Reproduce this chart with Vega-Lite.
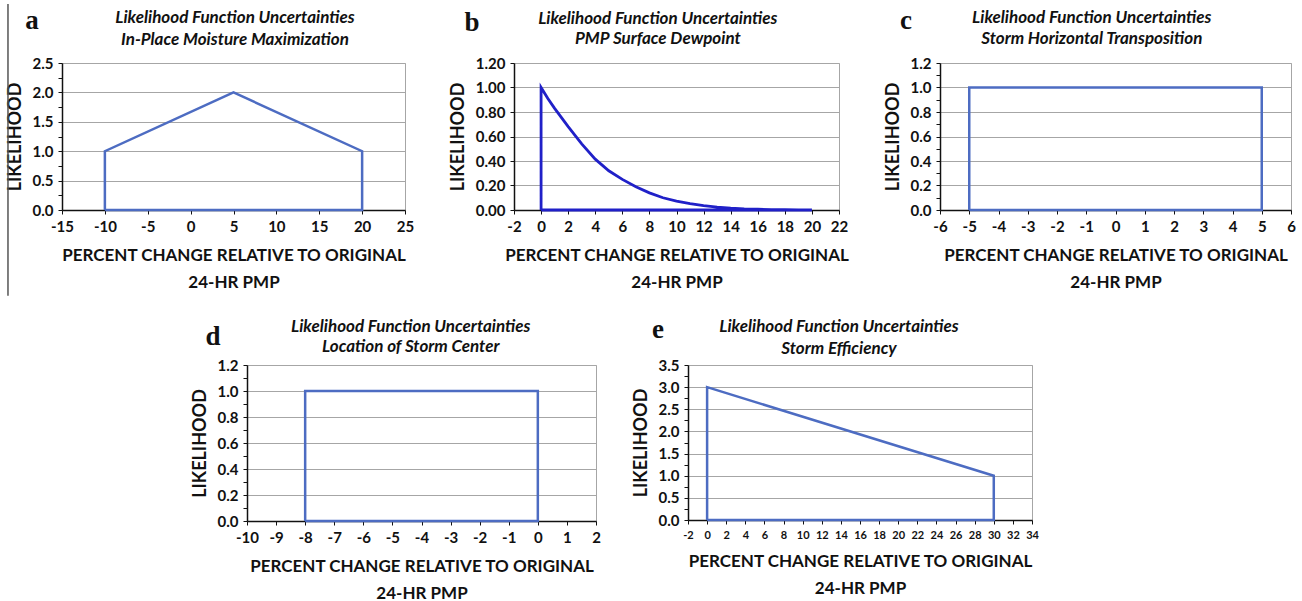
{
  "$schema": "https://vega.github.io/schema/vega-lite/v6.json",
  "background": "white",
  "padding": {"left": 5, "top": 2, "right": 0, "bottom": 0},
  "config": {
    "font": "Lato",
    "view": {"stroke": "#a6a6a6", "strokeWidth": 1},
    "axis": {"labelFont": "Lato", "labelFontWeight": "bold", "labelFontSize": 15, "labelColor": "#111", "titleFont": "Lato", "titleFontWeight": "bold", "titleFontSize": 17, "titleColor": "#111", "domainColor": "#111", "domainWidth": 1.5, "tickColor": "#111", "tickSize": 4, "tickWidth": 1, "gridColor": "#a6a6a6", "gridWidth": 1, "labelExpr": "replace(datum.label, '\u2212', '-')"},
    "axisX": {"grid": false, "labelPadding": 5, "titlePadding": 13, "titleLineHeight": 27, "labelFlush": false, "labelOverlap": false},
    "axisY": {"grid": true, "titlePadding": 8, "labelPadding": 5, "titleFontSize": 18, "labelOverlap": false},
    "text": {"font": "Liberation Serif", "fontWeight": "bold", "fontSize": 27, "color": "#111", "align": "center", "baseline": "alphabetic"},
    "line": {"strokeWidth": 2.5, "color": "#4d6cc2"}
  },
  "datasets": {
    "a": [{"i": 0, "x": -10, "y": 0}, {"i": 1, "x": -10, "y": 1}, {"i": 2, "x": 5, "y": 2}, {"i": 3, "x": 20, "y": 1}, {"i": 4, "x": 20, "y": 0}, {"i": 5, "x": -10, "y": 0}],
    "b": [{"i": 0, "x": 0, "y": 0}, {"i": 1, "x": 0, "y": 1}, {"i": 2, "x": 0.5, "y": 0.91}, {"i": 3, "x": 1, "y": 0.83}, {"i": 4, "x": 2, "y": 0.68}, {"i": 5, "x": 3, "y": 0.54}, {"i": 6, "x": 4, "y": 0.415}, {"i": 7, "x": 5, "y": 0.32}, {"i": 8, "x": 6, "y": 0.25}, {"i": 9, "x": 7, "y": 0.19}, {"i": 10, "x": 8, "y": 0.14}, {"i": 11, "x": 9, "y": 0.1}, {"i": 12, "x": 10, "y": 0.073}, {"i": 13, "x": 11, "y": 0.052}, {"i": 14, "x": 12, "y": 0.036}, {"i": 15, "x": 13, "y": 0.024}, {"i": 16, "x": 14, "y": 0.015}, {"i": 17, "x": 15, "y": 0.009}, {"i": 18, "x": 16, "y": 0.006}, {"i": 19, "x": 17, "y": 0.0035}, {"i": 20, "x": 18, "y": 0.002}, {"i": 21, "x": 19, "y": 0.001}, {"i": 22, "x": 20, "y": 0}, {"i": 23, "x": 0, "y": 0}],
    "c": [{"i": 0, "x": -5, "y": 0}, {"i": 1, "x": -5, "y": 1}, {"i": 2, "x": 5, "y": 1}, {"i": 3, "x": 5, "y": 0}, {"i": 4, "x": -5, "y": 0}],
    "d": [{"i": 0, "x": -8, "y": 0}, {"i": 1, "x": -8, "y": 1}, {"i": 2, "x": 0, "y": 1}, {"i": 3, "x": 0, "y": 0}, {"i": 4, "x": -8, "y": 0}],
    "e": [{"i": 0, "x": 0, "y": 0}, {"i": 1, "x": 0, "y": 3}, {"i": 2, "x": 30, "y": 1}, {"i": 3, "x": 30, "y": 0}, {"i": 4, "x": 0, "y": 0}]
  },
  "spacing": 17,
  "vconcat": [
    {
      "spacing": 33,
      "hconcat": [
        {
          "width": 343, "height": 147,
          "layer": [
            {
              "data": {"name": "a"},
              "mark": {"type": "line"},
              "encoding": {
                "x": {"field": "x", "type": "quantitative", "scale": {"domain": [-15, 25], "nice": false, "zero": false}, "axis": {"values": [-15, -10, -5, 0, 5, 10, 15, 20, 25], "format": "d", "title": ["PERCENT CHANGE RELATIVE TO ORIGINAL", "24-HR PMP"]}},
                "y": {"field": "y", "type": "quantitative", "scale": {"domain": [0, 2.5], "nice": false}, "axis": {"values": [0, 0.25, 0.5, 0.75, 1, 1.25, 1.5, 1.75, 2, 2.25, 2.5], "labelExpr": "datum.value % 0.5 == 0 ? format(datum.value, '.1f') : ''", "gridOpacity": {"condition": {"test": "datum.value % 0.5 == 0", "value": 1}, "value": 0}, "title": "LIKELIHOOD"}},
                "order": {"field": "i"}
              }
            },
            {
              "data": {"values": [{"panel": "a"}]},
              "mark": {"type": "rule", "color": "#555555", "strokeWidth": 1.5, "clip": false},
              "encoding": {
                "x": {"datum": -21.3, "type": "quantitative", "scale": {"domain": [-15, 25], "nice": false, "zero": false}, "axis": {"values": [-15, -10, -5, 0, 5, 10, 15, 20, 25], "format": "d", "title": ["PERCENT CHANGE RELATIVE TO ORIGINAL", "24-HR PMP"]}},
                "y": {"datum": 3.503, "type": "quantitative", "scale": {"domain": [0, 2.5], "nice": false}, "axis": {"values": [0, 0.25, 0.5, 0.75, 1, 1.25, 1.5, 1.75, 2, 2.25, 2.5], "labelExpr": "datum.value % 0.5 == 0 ? format(datum.value, '.1f') : ''", "gridOpacity": {"condition": {"test": "datum.value % 0.5 == 0", "value": 1}, "value": 0}, "title": "LIKELIHOOD"}},
                "y2": {"datum": -1.46}
              }
            },
            {
              "data": {"values": [{"panel": "a"}]},
              "mark": {"type": "text"},
              "encoding": {
                "text": {"field": "panel"},
                "x": {"datum": -18.5, "type": "quantitative", "scale": {"domain": [-15, 25], "nice": false, "zero": false}, "axis": {"values": [-15, -10, -5, 0, 5, 10, 15, 20, 25], "format": "d", "title": ["PERCENT CHANGE RELATIVE TO ORIGINAL", "24-HR PMP"]}},
                "y": {"datum": 3.08, "type": "quantitative", "scale": {"domain": [0, 2.5], "nice": false}, "axis": {"values": [0, 0.25, 0.5, 0.75, 1, 1.25, 1.5, 1.75, 2, 2.25, 2.5], "labelExpr": "datum.value % 0.5 == 0 ? format(datum.value, '.1f') : ''", "gridOpacity": {"condition": {"test": "datum.value % 0.5 == 0", "value": 1}, "value": 0}, "title": "LIKELIHOOD"}}
              }
            },
            {
              "data": {"values": [{"panel": "a"}]},
              "mark": {"type": "text", "text": ["Likelihood Function Uncertainties", "In-Place Moisture  Maximization"], "font": "Lato", "fontStyle": "italic", "fontWeight": "bold", "fontSize": 17, "lineHeight": 22},
              "encoding": {
                "x": {"datum": 5.17, "type": "quantitative", "scale": {"domain": [-15, 25], "nice": false, "zero": false}, "axis": {"values": [-15, -10, -5, 0, 5, 10, 15, 20, 25], "format": "d", "title": ["PERCENT CHANGE RELATIVE TO ORIGINAL", "24-HR PMP"]}},
                "y": {"datum": 3.18, "type": "quantitative", "scale": {"domain": [0, 2.5], "nice": false}, "axis": {"values": [0, 0.25, 0.5, 0.75, 1, 1.25, 1.5, 1.75, 2, 2.25, 2.5], "labelExpr": "datum.value % 0.5 == 0 ? format(datum.value, '.1f') : ''", "gridOpacity": {"condition": {"test": "datum.value % 0.5 == 0", "value": 1}, "value": 0}, "title": "LIKELIHOOD"}}
              }
            }
          ]
        },
        {
          "width": 325, "height": 147,
          "layer": [
            {
              "data": {"name": "b"},
              "mark": {"type": "line", "color": "#2020c8", "strokeWidth": 2.8},
              "encoding": {
                "x": {"field": "x", "type": "quantitative", "scale": {"domain": [-2, 22], "nice": false, "zero": false}, "axis": {"values": [-2, 0, 2, 4, 6, 8, 10, 12, 14, 16, 18, 20, 22], "format": "d", "title": ["PERCENT CHANGE RELATIVE TO ORIGINAL", "24-HR PMP"]}},
                "y": {"field": "y", "type": "quantitative", "scale": {"domain": [0, 1.2], "nice": false}, "axis": {"values": [0, 0.2, 0.4, 0.6, 0.8, 1, 1.2], "format": ".2f", "title": "LIKELIHOOD"}},
                "order": {"field": "i"}
              }
            },
            {
              "data": {"values": [{"panel": "b"}]},
              "mark": {"type": "text"},
              "encoding": {
                "text": {"field": "panel"},
                "x": {"datum": -5.1, "type": "quantitative", "scale": {"domain": [-2, 22], "nice": false, "zero": false}, "axis": {"values": [-2, 0, 2, 4, 6, 8, 10, 12, 14, 16, 18, 20, 22], "format": "d", "title": ["PERCENT CHANGE RELATIVE TO ORIGINAL", "24-HR PMP"]}},
                "y": {"datum": 1.46, "type": "quantitative", "scale": {"domain": [0, 1.2], "nice": false}, "axis": {"values": [0, 0.2, 0.4, 0.6, 0.8, 1, 1.2], "format": ".2f", "title": "LIKELIHOOD"}}
              }
            },
            {
              "data": {"values": [{"panel": "b"}]},
              "mark": {"type": "text", "text": ["Likelihood Function Uncertainties", "PMP Surface Dewpoint"], "font": "Lato", "fontStyle": "italic", "fontWeight": "bold", "fontSize": 17, "lineHeight": 20},
              "encoding": {
                "x": {"datum": 8.62, "type": "quantitative", "scale": {"domain": [-2, 22], "nice": false, "zero": false}, "axis": {"values": [-2, 0, 2, 4, 6, 8, 10, 12, 14, 16, 18, 20, 22], "format": "d", "title": ["PERCENT CHANGE RELATIVE TO ORIGINAL", "24-HR PMP"]}},
                "y": {"datum": 1.518, "type": "quantitative", "scale": {"domain": [0, 1.2], "nice": false}, "axis": {"values": [0, 0.2, 0.4, 0.6, 0.8, 1, 1.2], "format": ".2f", "title": "LIKELIHOOD"}}
              }
            }
          ]
        },
        {
          "width": 351, "height": 147,
          "layer": [
            {
              "data": {"name": "c"},
              "mark": {"type": "line"},
              "encoding": {
                "x": {"field": "x", "type": "quantitative", "scale": {"domain": [-6, 6], "nice": false, "zero": false}, "axis": {"values": [-6, -5, -4, -3, -2, -1, 0, 1, 2, 3, 4, 5, 6], "format": "d", "title": ["PERCENT CHANGE RELATIVE TO ORIGINAL", "24-HR PMP"]}},
                "y": {"field": "y", "type": "quantitative", "scale": {"domain": [0, 1.2], "nice": false}, "axis": {"values": [0, 0.1, 0.2, 0.3, 0.4, 0.5, 0.6, 0.7, 0.8, 0.9, 1, 1.1, 1.2], "labelExpr": "round(datum.value * 10) % 2 == 0 ? format(datum.value, '.1f') : ''", "gridOpacity": {"condition": {"test": "round(datum.value * 10) % 2 == 0", "value": 1}, "value": 0}, "title": "LIKELIHOOD"}},
                "order": {"field": "i"}
              }
            },
            {
              "data": {"values": [{"panel": "c"}]},
              "mark": {"type": "text"},
              "encoding": {
                "text": {"field": "panel"},
                "x": {"datum": -7.16, "type": "quantitative", "scale": {"domain": [-6, 6], "nice": false, "zero": false}, "axis": {"values": [-6, -5, -4, -3, -2, -1, 0, 1, 2, 3, 4, 5, 6], "format": "d", "title": ["PERCENT CHANGE RELATIVE TO ORIGINAL", "24-HR PMP"]}},
                "y": {"datum": 1.478, "type": "quantitative", "scale": {"domain": [0, 1.2], "nice": false}, "axis": {"values": [0, 0.1, 0.2, 0.3, 0.4, 0.5, 0.6, 0.7, 0.8, 0.9, 1, 1.1, 1.2], "labelExpr": "round(datum.value * 10) % 2 == 0 ? format(datum.value, '.1f') : ''", "gridOpacity": {"condition": {"test": "round(datum.value * 10) % 2 == 0", "value": 1}, "value": 0}, "title": "LIKELIHOOD"}}
              }
            },
            {
              "data": {"values": [{"panel": "c"}]},
              "mark": {"type": "text", "text": ["Likelihood Function Uncertainties", "Storm Horizontal Transposition"], "font": "Lato", "fontStyle": "italic", "fontWeight": "bold", "fontSize": 17, "lineHeight": 21},
              "encoding": {
                "x": {"datum": -0.81, "type": "quantitative", "scale": {"domain": [-6, 6], "nice": false, "zero": false}, "axis": {"values": [-6, -5, -4, -3, -2, -1, 0, 1, 2, 3, 4, 5, 6], "format": "d", "title": ["PERCENT CHANGE RELATIVE TO ORIGINAL", "24-HR PMP"]}},
                "y": {"datum": 1.527, "type": "quantitative", "scale": {"domain": [0, 1.2], "nice": false}, "axis": {"values": [0, 0.1, 0.2, 0.3, 0.4, 0.5, 0.6, 0.7, 0.8, 0.9, 1, 1.1, 1.2], "labelExpr": "round(datum.value * 10) % 2 == 0 ? format(datum.value, '.1f') : ''", "gridOpacity": {"condition": {"test": "round(datum.value * 10) % 2 == 0", "value": 1}, "value": 0}, "title": "LIKELIHOOD"}}
              }
            }
          ]
        }
      ]
    },
    {
      "spacing": 30,
      "hconcat": [
        {
          "width": 98, "height": 10,
          "view": {"stroke": null},
          "data": {"values": []},
          "mark": "point"
        },
        {
          "width": 349, "height": 156,
          "layer": [
            {
              "data": {"name": "d"},
              "mark": {"type": "line"},
              "encoding": {
                "x": {"field": "x", "type": "quantitative", "scale": {"domain": [-10, 2], "nice": false, "zero": false}, "axis": {"values": [-10, -9, -8, -7, -6, -5, -4, -3, -2, -1, 0, 1, 2], "format": "d", "title": ["PERCENT CHANGE RELATIVE TO ORIGINAL", "24-HR PMP"]}},
                "y": {"field": "y", "type": "quantitative", "scale": {"domain": [0, 1.2], "nice": false}, "axis": {"values": [0, 0.1, 0.2, 0.3, 0.4, 0.5, 0.6, 0.7, 0.8, 0.9, 1, 1.1, 1.2], "labelExpr": "round(datum.value * 10) % 2 == 0 ? format(datum.value, '.1f') : ''", "gridOpacity": {"condition": {"test": "round(datum.value * 10) % 2 == 0", "value": 1}, "value": 0}, "title": "LIKELIHOOD"}},
                "order": {"field": "i"}
              }
            },
            {
              "data": {"values": [{"panel": "d"}]},
              "mark": {"type": "text"},
              "encoding": {
                "text": {"field": "panel"},
                "x": {"datum": -11.17, "type": "quantitative", "scale": {"domain": [-10, 2], "nice": false, "zero": false}, "axis": {"values": [-10, -9, -8, -7, -6, -5, -4, -3, -2, -1, 0, 1, 2], "format": "d", "title": ["PERCENT CHANGE RELATIVE TO ORIGINAL", "24-HR PMP"]}},
                "y": {"datum": 1.354, "type": "quantitative", "scale": {"domain": [0, 1.2], "nice": false}, "axis": {"values": [0, 0.1, 0.2, 0.3, 0.4, 0.5, 0.6, 0.7, 0.8, 0.9, 1, 1.1, 1.2], "labelExpr": "round(datum.value * 10) % 2 == 0 ? format(datum.value, '.1f') : ''", "gridOpacity": {"condition": {"test": "round(datum.value * 10) % 2 == 0", "value": 1}, "value": 0}, "title": "LIKELIHOOD"}}
              }
            },
            {
              "data": {"values": [{"panel": "d"}]},
              "mark": {"type": "text", "text": ["Likelihood Function Uncertainties", "Location of Storm Center"], "font": "Lato", "fontStyle": "italic", "fontWeight": "bold", "fontSize": 17, "lineHeight": 20},
              "encoding": {
                "x": {"datum": -4.37, "type": "quantitative", "scale": {"domain": [-10, 2], "nice": false, "zero": false}, "axis": {"values": [-10, -9, -8, -7, -6, -5, -4, -3, -2, -1, 0, 1, 2], "format": "d", "title": ["PERCENT CHANGE RELATIVE TO ORIGINAL", "24-HR PMP"]}},
                "y": {"datum": 1.454, "type": "quantitative", "scale": {"domain": [0, 1.2], "nice": false}, "axis": {"values": [0, 0.1, 0.2, 0.3, 0.4, 0.5, 0.6, 0.7, 0.8, 0.9, 1, 1.1, 1.2], "labelExpr": "round(datum.value * 10) % 2 == 0 ? format(datum.value, '.1f') : ''", "gridOpacity": {"condition": {"test": "round(datum.value * 10) % 2 == 0", "value": 1}, "value": 0}, "title": "LIKELIHOOD"}}
              }
            }
          ]
        },
        {
          "width": 344, "height": 155,
          "layer": [
            {
              "data": {"name": "e"},
              "mark": {"type": "line"},
              "encoding": {
                "x": {"field": "x", "type": "quantitative", "scale": {"domain": [-2, 34], "nice": false, "zero": false}, "axis": {"values": [-2, 0, 2, 4, 6, 8, 10, 12, 14, 16, 18, 20, 22, 24, 26, 28, 30, 32, 34], "format": "d", "labelFontSize": 11, "title": ["PERCENT CHANGE RELATIVE TO ORIGINAL", "24-HR PMP"]}},
                "y": {"field": "y", "type": "quantitative", "scale": {"domain": [0, 3.5], "nice": false}, "axis": {"values": [0, 0.25, 0.5, 0.75, 1, 1.25, 1.5, 1.75, 2, 2.25, 2.5, 2.75, 3, 3.25, 3.5], "labelExpr": "datum.value % 0.5 == 0 ? format(datum.value, '.1f') : ''", "gridOpacity": {"condition": {"test": "datum.value % 0.5 == 0", "value": 1}, "value": 0}, "title": "LIKELIHOOD"}},
                "order": {"field": "i"}
              }
            },
            {
              "data": {"values": [{"panel": "e"}]},
              "mark": {"type": "text"},
              "encoding": {
                "text": {"field": "panel"},
                "x": {"datum": -5.14, "type": "quantitative", "scale": {"domain": [-2, 34], "nice": false, "zero": false}, "axis": {"values": [-2, 0, 2, 4, 6, 8, 10, 12, 14, 16, 18, 20, 22, 24, 26, 28, 30, 32, 34], "format": "d", "labelFontSize": 11, "title": ["PERCENT CHANGE RELATIVE TO ORIGINAL", "24-HR PMP"]}},
                "y": {"datum": 4.11, "type": "quantitative", "scale": {"domain": [0, 3.5], "nice": false}, "axis": {"values": [0, 0.25, 0.5, 0.75, 1, 1.25, 1.5, 1.75, 2, 2.25, 2.5, 2.75, 3, 3.25, 3.5], "labelExpr": "datum.value % 0.5 == 0 ? format(datum.value, '.1f') : ''", "gridOpacity": {"condition": {"test": "datum.value % 0.5 == 0", "value": 1}, "value": 0}, "title": "LIKELIHOOD"}}
              }
            },
            {
              "data": {"values": [{"panel": "e"}]},
              "mark": {"type": "text", "text": ["Likelihood Function Uncertainties", "Storm Efficiency"], "font": "Lato", "fontStyle": "italic", "fontWeight": "bold", "fontSize": 17, "lineHeight": 22},
              "encoding": {
                "x": {"datum": 13.8, "type": "quantitative", "scale": {"domain": [-2, 34], "nice": false, "zero": false}, "axis": {"values": [-2, 0, 2, 4, 6, 8, 10, 12, 14, 16, 18, 20, 22, 24, 26, 28, 30, 32, 34], "format": "d", "labelFontSize": 11, "title": ["PERCENT CHANGE RELATIVE TO ORIGINAL", "24-HR PMP"]}},
                "y": {"datum": 4.245, "type": "quantitative", "scale": {"domain": [0, 3.5], "nice": false}, "axis": {"values": [0, 0.25, 0.5, 0.75, 1, 1.25, 1.5, 1.75, 2, 2.25, 2.5, 2.75, 3, 3.25, 3.5], "labelExpr": "datum.value % 0.5 == 0 ? format(datum.value, '.1f') : ''", "gridOpacity": {"condition": {"test": "datum.value % 0.5 == 0", "value": 1}, "value": 0}, "title": "LIKELIHOOD"}}
              }
            }
          ]
        }
      ]
    }
  ]
}
